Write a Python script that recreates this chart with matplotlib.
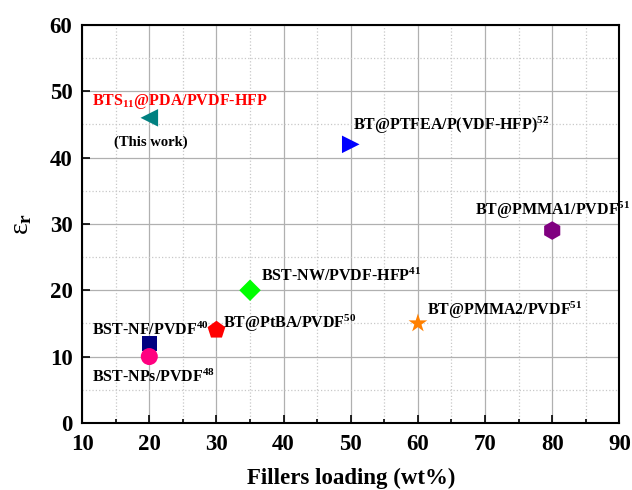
import matplotlib
matplotlib.use("Agg")
import matplotlib.pyplot as plt
from matplotlib.ticker import MultipleLocator

plt.rcParams['font.family'] = ['Liberation Serif', 'DejaVu Serif']
plt.rcParams['font.weight'] = 'bold'
plt.rcParams['mathtext.fontset'] = 'custom'
plt.rcParams['mathtext.rm'] = 'Liberation Serif:bold'
plt.rcParams['mathtext.it'] = 'Liberation Serif:bold'
plt.rcParams['mathtext.bf'] = 'Liberation Serif:bold'

# data
names = ["BTS$_{11}$@PDA/PVDF-HFP", "BT@PTFEA/P(VDF-HFP)$^{52}$", "BT@PMMA1/PVDF$^{51}$",
         "BST-NW/PVDF-HFP$^{41}$", "BT@PtBA/PVDF$^{50}$", "BT@PMMA2/PVDF$^{51}$",
         "BST-NF/PVDF$^{40}$", "BST-NPs/PVDF$^{48}$"]
loading = [20, 50, 80, 35, 30, 60, 20, 20]
eps_r = [46, 42, 29, 20, 14, 15, 12, 10]
label_x = [11.5, 50.3, 68.5, 36.6, 30.9, 61.4, 11.5, 11.5]
label_y = [48.5, 44.9, 32.0, 22.1, 15.0, 16.9, 13.9, 6.8]

markers = ['<', '>', 'h', 'D', 'p', '*', 's', 'o']
colors = ['#008080', '#0000ff', '#800080', '#00ff00', '#ff0000', '#ff8000', '#000080', '#ff0080']
sizes = [160, 160, 180, 120, 180, 200, 120, 150]
label_colors = ['#ff0000'] + ['#000000'] * 7

fig = plt.figure(figsize=(6.32, 4.9), dpi=100)
ax = fig.add_axes([0.130, 0.137, 0.850, 0.812])

for i in range(len(names)):
    ax.scatter(loading[i], eps_r[i], marker=markers[i], s=sizes[i], color=colors[i],
               edgecolors='none', zorder=3)
    ax.text(label_x[i], label_y[i], names[i], color=label_colors[i], fontsize=11.5,
            fontweight='bold', va='center', ha='left', zorder=4)

ax.text(14.8, 42.3, "(This work)", fontsize=10.5, fontweight='bold', va='center', ha='left')

ax.set_xlim(10, 90)
ax.set_ylim(0, 60)
ax.xaxis.set_major_locator(MultipleLocator(10))
ax.xaxis.set_minor_locator(MultipleLocator(5))
ax.yaxis.set_major_locator(MultipleLocator(10))
ax.yaxis.set_minor_locator(MultipleLocator(5))
ax.grid(which='major', color='#b0b0b0', linestyle='-', linewidth=0.9)
ax.grid(which='minor', color='#c8c8c8', linestyle=':', linewidth=0.9)
ax.set_axisbelow(True)
ax.tick_params(which='both', direction='in', top=False, right=False, labelsize=16.5, width=1.2)
ax.tick_params(which='major', length=6)
ax.tick_params(which='minor', length=3)
ax.tick_params(axis='y', which='minor', length=0)
ax.tick_params(axis='x', pad=8)
ax.tick_params(axis='y', pad=7)
for lab in ax.get_xticklabels() + ax.get_yticklabels():
    lab.set_fontweight('bold')
for sp in ax.spines.values():
    sp.set_linewidth(1.5)

ax.set_xlabel("Fillers loading (wt%)", fontsize=16.5, fontweight='bold', labelpad=9)
ax.set_ylabel("ε$_\\mathrm{r}$", fontsize=20, fontweight='normal', labelpad=11)

fig.savefig("out.png", dpi=100)
